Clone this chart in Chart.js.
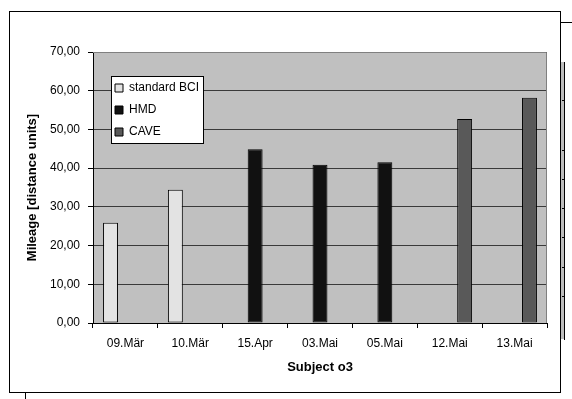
<!DOCTYPE html>
<html>
<head>
<meta charset="utf-8">
<script src="https://cdn.jsdelivr.net/npm/chart.js@4/dist/chart.umd.min.js"></script>
<style>
  html,body{margin:0;padding:0;background:#fff;}
  #wrap{width:572px;height:399px;}
</style>
</head>
<body>
<div id="wrap"><canvas id="chart" width="572" height="399"></canvas></div>
<script>
/* ---------- data ---------- */
const categories = ["09.Mär","10.Mär","15.Apr","03.Mai","05.Mai","12.Mai","13.Mai"];
const seriesNames = ["standard BCI","HMD","CAVE"];
const bciValues  = [25.9, 34.4, null, null, null, null, null];
const hmdValues  = [null, null, 44.9, 40.9, 41.5, null, null];
const caveValues = [null, null, null, null, null, 52.7, 58.2];
const yMin = 0, yMax = 70, yStep = 10;
const xTitle = "Subject o3";
const yTitle = "Mileage [distance units]";

const FONT = "'Liberation Sans', Arial, sans-serif";

/* ---------- decorations: plot bg, frames, legend box ---------- */
const decor = {
  id: "decor",
  afterLayout(chart){
    const lg = chart.legend;
    lg.left = 105; lg.top = 72;
    lg.right = lg.left + lg.width; lg.bottom = lg.top + lg.height;
  },
  beforeDraw(chart){
    const {ctx, chartArea:a} = chart;
    ctx.save();
    ctx.fillStyle = "#fff";
    ctx.fillRect(0,0,chart.width,chart.height);
    ctx.fillStyle = "#c0c0c0";
    ctx.fillRect(a.left,a.top,a.right-a.left,a.bottom-a.top);
    ctx.restore();
  },
  beforeDatasetsDraw(chart){
    const {ctx, chartArea:a} = chart;
    ctx.save();
    ctx.strokeStyle = "#808080"; ctx.lineWidth = 1;
    ctx.beginPath();
    ctx.moveTo(a.left, a.top+0.5); ctx.lineTo(a.right-0.5, a.top+0.5);
    ctx.lineTo(a.right-0.5, a.bottom);
    ctx.stroke();
    ctx.restore();
  },
  afterDraw(chart){
    const ctx = chart.ctx;
    ctx.save();
    // legend box
    ctx.fillStyle = "#fff";
    ctx.fillRect(111,76,93,68);
    ctx.strokeStyle = "#000"; ctx.lineWidth = 1;
    ctx.strokeRect(111.5,76.5,92,67);
    ctx.restore();
    chart.legend.draw();

    ctx.save();
    ctx.strokeStyle = "#000"; ctx.lineWidth = 1;
    // outer chart frame
    ctx.strokeRect(9.5,11.5,551,381);
    // bits of the chart behind
    ctx.beginPath();
    ctx.moveTo(560,22.5); ctx.lineTo(572,22.5);
    ctx.moveTo(25.5,393); ctx.lineTo(25.5,399);
    ctx.stroke();
    ctx.fillStyle = "#bdbdbd";
    ctx.fillRect(561,62,3,277);
    ctx.beginPath();
    ctx.moveTo(564.5,62); ctx.lineTo(564.5,340);
    [100,150,179,208,237,267,296].forEach(y=>{ ctx.moveTo(562,y+0.5); ctx.lineTo(565,y+0.5); });
    ctx.stroke();
    ctx.restore();
  }
};

/* ---------- chart ---------- */
const mkSet = (label,data,color)=>({
  label, data,
  backgroundColor: color, borderColor: "#000", borderWidth: 1, borderSkipped: false,
  categoryPercentage: 0.69, barPercentage: 1.0
});

new Chart(document.getElementById("chart").getContext("2d"), {
  type: "bar",
  data: {
    labels: categories,
    datasets: [
      mkSet(seriesNames[0], bciValues,  "#e3e3e3"),
      mkSet(seriesNames[1], hmdValues,  "#111111"),
      mkSet(seriesNames[2], caveValues, "#595959")
    ]
  },
  options: {
    responsive: false, animation: false, devicePixelRatio: 1,
    layout: { padding: { left: 0, top: 52, right: 25, bottom: 0 } },
    plugins: {
      legend: {
        position: "chartArea", align: "start",
        labels: { boxWidth: 8, boxHeight: 8, padding: 10, color: "#000", font: { family: FONT, size: 12 } }
      },
      tooltip: { enabled: false }
    },
    scales: {
      x: {
        afterFit: s => { s.height = 76; },
        grid: { offset: true, drawOnChartArea: false, drawTicks: true, tickLength: 5, tickColor: "#000" },
        border: { color: "#000" },
        ticks: { color: "#000", padding: 8, maxRotation: 0, font: { family: FONT, size: 12 } },
        title: { display: true, text: xTitle, color: "#000", padding: { top: 0, bottom: 24 },
                 font: { family: FONT, size: 13, weight: "bold" } }
      },
      y: {
        min: yMin, max: yMax,
        afterFit: s => { s.width = 93; },
        grid: { color: "#3a3a3a", tickColor: "#000", tickLength: 5 },
        border: { color: "#000" },
        ticks: { stepSize: yStep, color: "#000", padding: 8, font: { family: FONT, size: 12 },
                 callback: v => v.toFixed(2).replace(".", ",") },
        title: { display: true, text: yTitle, color: "#000", padding: { top: 24.5, bottom: 0 },
                 font: { family: FONT, size: 13, weight: "bold" } }
      }
    }
  },
  plugins: [decor]
});
</script>
</body>
</html>
